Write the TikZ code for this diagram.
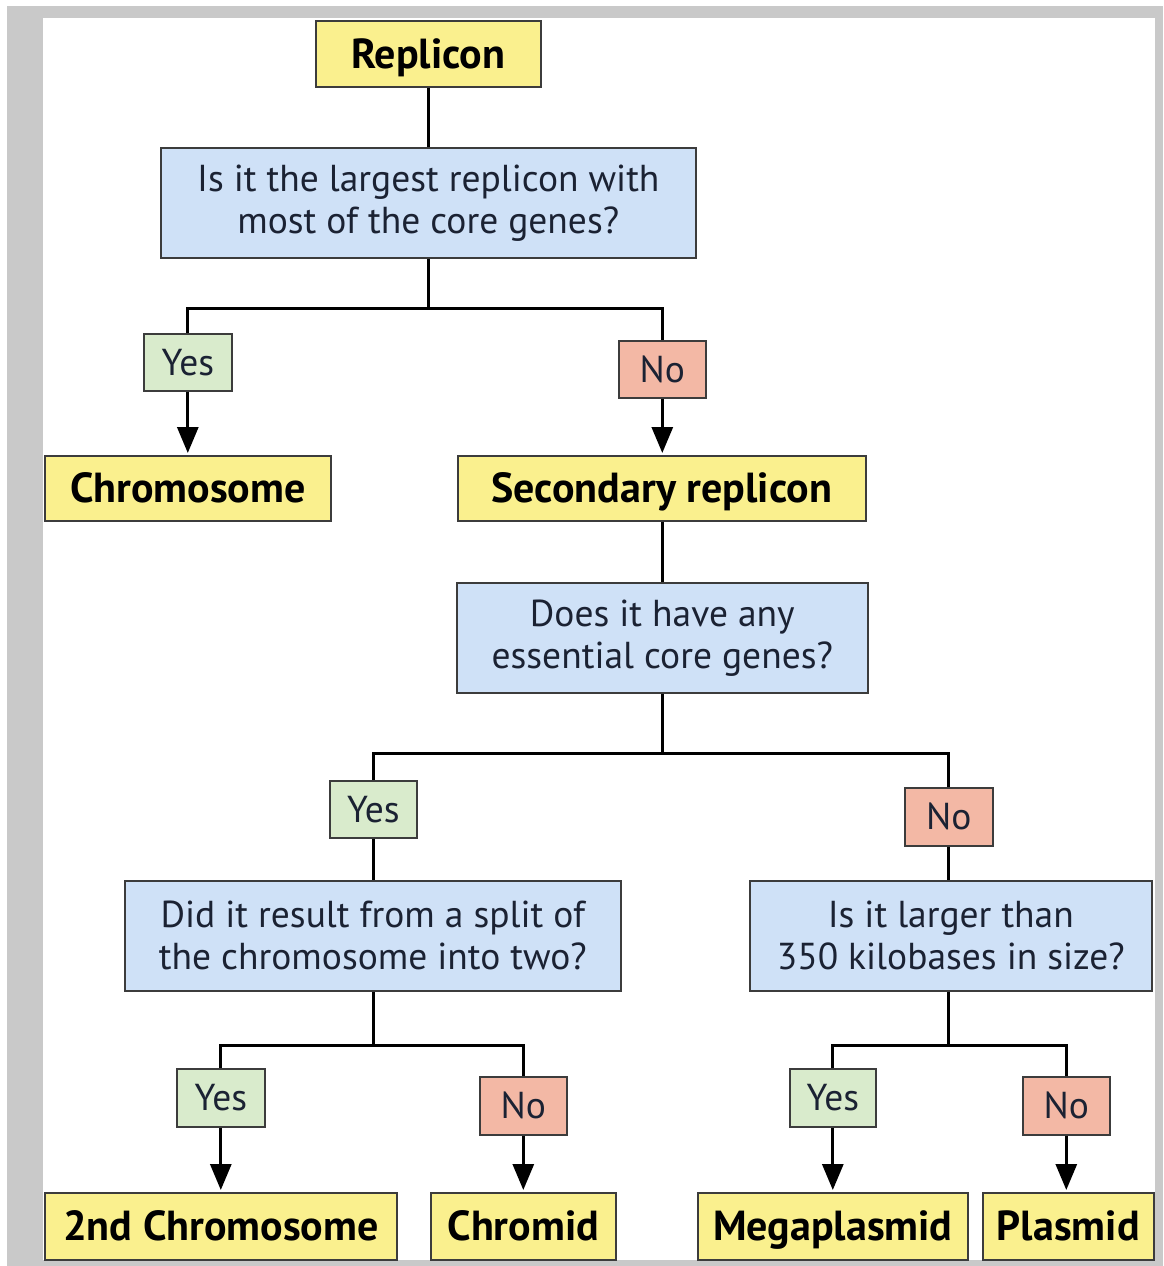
\documentclass[tikz,border=0pt]{standalone}
\usepackage{fontspec}
\setmainfont{PT Sans}
\usetikzlibrary{arrows.meta}
\definecolor{frame}{HTML}{C9C9C9}
\definecolor{yel}{HTML}{FAF08E}
\definecolor{blu}{HTML}{CFE1F7}
\definecolor{grn}{HTML}{D9EBCC}
\definecolor{red}{HTML}{F3B8A5}
\definecolor{edge}{HTML}{3C3C3C}
\definecolor{qtext}{HTML}{1B2233}
\tikzset{
  x=1pt, y=-1pt,
  boxbase/.style={draw=edge, line width=1.6pt, inner sep=0pt, anchor=north west},
  result/.style={boxbase, text height=29pt, text depth=0pt, fill=yel, font=\fontsize{42}{48}\selectfont\bfseries, text=black},
  question/.style={boxbase, fill=blu, align=center, font=\fontsize{37.5}{42}\selectfont, text=qtext},
  yesbox/.style={boxbase, text height=26pt, text depth=0pt, fill=grn, font=\fontsize{37.5}{42}\selectfont, text=qtext},
  nobox/.style={boxbase, text height=26pt, text depth=0pt, fill=red, font=\fontsize{37.5}{42}\selectfont, text=qtext},
  conn/.style={line width=3pt, black},
  arr/.style={conn, -{Triangle[length=26pt,width=21pt]}, shorten >=2pt},
}
% box: name, style, left, top, right, bottom, text
\newcommand{\mybox}[7]{%
  \node[#2, minimum width={#5-#3}, minimum height={#6-#4}] (#1) at (#3,#4) {#7};}
\begin{document}
\begin{tikzpicture}
\useasboundingbox (0,0) rectangle (1163,1266);
\fill[white] (0,0) rectangle (1163,1266);
\fill[frame] (7,6) rectangle (1163,1266);
\fill[white] (43,18) rectangle (1155,1260);

\mybox{replicon}{result}{315}{20}{540}{86}{Replicon}
\mybox{q1}{question}{160}{147}{695}{257}{Is it the largest replicon with\\most of the core genes?}
\mybox{yes1}{yesbox}{143}{333}{231}{390}{Yes}
\mybox{no1}{nobox}{618}{340}{705}{397}{No}
\mybox{chromo}{result}{44}{455}{330}{520}{Chromosome}
\mybox{secrep}{result}{457}{455}{865}{520}{Secondary replicon}
\mybox{q2}{question}{456}{582}{867}{692}{Does it have any\\essential core genes?}
\mybox{yes2}{yesbox}{329}{780}{416}{837}{Yes}
\mybox{no2}{nobox}{904}{787}{992}{845}{No}
\mybox{q3}{question}{124}{880}{620}{990}{Did it result from a split of\\the chromosome into two?}
\mybox{q4}{question}{749}{880}{1151}{990}{Is it larger than\\350 kilobases in size?}
\mybox{yes3}{yesbox}{176}{1068}{264}{1126}{Yes}
\mybox{no3}{nobox}{479}{1076}{566}{1134}{No}
\mybox{yes4}{yesbox}{789}{1068}{875}{1126}{Yes}
\mybox{no4}{nobox}{1022}{1076}{1109}{1134}{No}
\mybox{chr2}{result}{44}{1192}{396}{1259}{2nd Chromosome}
\mybox{chromid}{result}{430}{1192}{615}{1259}{Chromid}
\mybox{mega}{result}{697}{1192}{967}{1259}{Megaplasmid}
\mybox{plasmid}{result}{982}{1192}{1153}{1259}{Plasmid}

\coordinate (b1) at (0,308);
\coordinate (b2) at (0,753);
\coordinate (b3) at (0,1045);

\draw[conn] (replicon.south) -- (q1.north);
\draw[conn] (q1.south) -- (q1.south |- b1);
\draw[conn] (yes1.north) -- (yes1.north |- b1) -- (no1.north |- b1) -- (no1.north);
\draw[arr] (yes1.south) -- (chromo.north -| yes1.south);
\draw[arr] (no1.south) -- (secrep.north -| no1.south);

\draw[conn] (secrep.south -| q2.north) -- (q2.north);
\draw[conn] (q2.south) -- (q2.south |- b2);
\draw[conn] (yes2.north) -- (yes2.north |- b2) -- (no2.north |- b2) -- (no2.north);
\draw[conn] (yes2.south) -- (q3.north -| yes2.south);
\draw[conn] (no2.south) -- (q4.north -| no2.south);

\draw[conn] (q3.south -| yes2.south) -- (yes2.south |- b3);
\draw[conn] (yes3.north) -- (yes3.north |- b3) -- (no3.north |- b3) -- (no3.north);
\draw[arr] (yes3.south) -- (chr2.north -| yes3.south);
\draw[arr] (no3.south) -- (chromid.north -| no3.south);

\draw[conn] (q4.south -| no2.south) -- (no2.south |- b3);
\draw[conn] (yes4.north) -- (yes4.north |- b3) -- (no4.north |- b3) -- (no4.north);
\draw[arr] (yes4.south) -- (mega.north -| yes4.south);
\draw[arr] (no4.south) -- (plasmid.north -| no4.south);
\end{tikzpicture}
\end{document}
